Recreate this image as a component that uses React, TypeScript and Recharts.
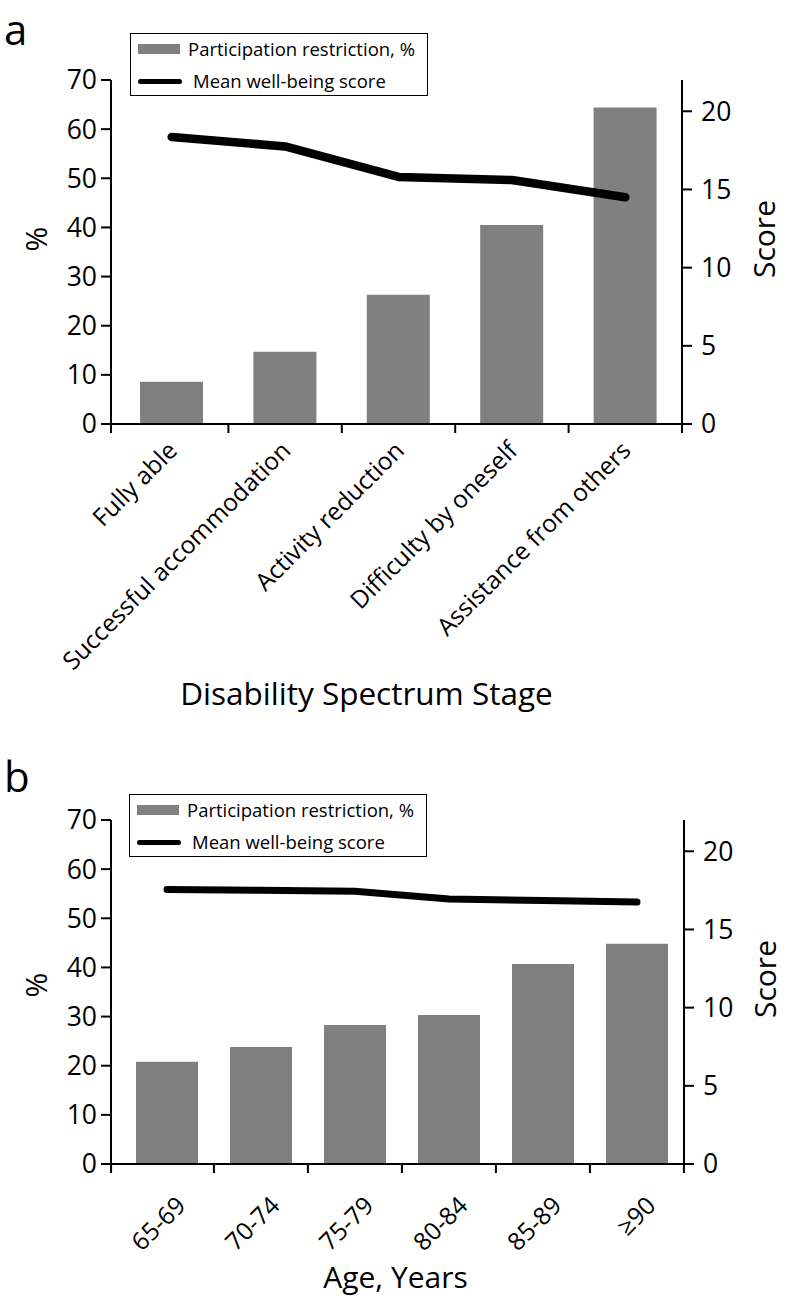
import React from 'react';
import { ComposedChart, Bar, Line, XAxis, YAxis, Legend, Label } from 'recharts';

const FONT = '"Open Sans", "Noto Sans", sans-serif';

// panel a: disability spectrum stage
const stageLabels = [
  'Fully able',
  'Successful accommodation',
  'Activity reduction',
  'Difficulty by oneself',
  'Assistance from others',
];
const stageRestriction = [8.6, 14.7, 26.3, 40.5, 64.4];
const stageScore = [18.35, 17.75, 15.8, 15.6, 14.5];

// panel b: age group
const ageLabels = ['65-69', '70-74', '75-79', '80-84', '85-89', '≥90'];
const ageRestriction = [20.8, 23.8, 28.3, 30.3, 40.7, 44.8];
const ageScore = [17.55, 17.5, 17.45, 16.95, 16.85, 16.75];

const pctTicks = [0, 10, 20, 30, 40, 50, 60, 70];
const scoreTicks = [0, 5, 10, 15, 20];

const stageData = stageLabels.map((name, i) => ({ name, pct: stageRestriction[i], score: stageScore[i] }));
const ageData = ageLabels.map((name, i) => ({ name, pct: ageRestriction[i], score: ageScore[i] }));

const LegendBox = () => (
  <div
    style={{
      position: 'relative',
      border: '1.5px solid #000',
      width: 296,
      height: 61,
      fontFamily: FONT,
      fontSize: 18.5,
      color: '#000',
      background: '#fff',
    }}
  >
    <div style={{ position: 'absolute', left: 7, top: 10, width: 42, height: 10, background: '#808080' }} />
    <div style={{ position: 'absolute', left: 57, top: 3, lineHeight: '24px', whiteSpace: 'nowrap' }}>
      Participation restriction, %
    </div>
    <div style={{ position: 'absolute', left: 7, top: 45, width: 44, height: 5, background: '#000', borderRadius: 3 }} />
    <div style={{ position: 'absolute', left: 62, top: 35, lineHeight: '24px', whiteSpace: 'nowrap' }}>
      Mean well-being score
    </div>
  </div>
);

const makeTick = (band: number, padLeft: number, dx: number, dy: number) => (props: any) => {
  const { x, y, payload, index } = props;
  const edge = x + band / 2;
  const start = x - band / 2 - padLeft;
  return (
    <g>
      <line x1={edge} y1={y} x2={edge} y2={y + 9} stroke="#000" strokeWidth={2} />
      {index === 0 && <line x1={start} y1={y} x2={start} y2={y + 9} stroke="#000" strokeWidth={2} />}
      <text
        transform={`translate(${x + dx},${y + dy}) rotate(-45)`}
        textAnchor="end"
        dy="0.35em"
        fontSize={24.5}
        fontFamily={FONT}
        fill="#000"
      >
        {payload.value}
      </text>
    </g>
  );
};

const sideTitle = (text: string, dx: number, dy: number) => (props: any) => {
  const vb = props.viewBox;
  const cx = vb.x + vb.width / 2 + dx;
  const cy = vb.y + vb.height / 2 + dy;
  return (
    <text
      x={cx}
      y={cy}
      transform={`rotate(-90, ${cx}, ${cy})`}
      textAnchor="middle"
      dominantBaseline="central"
      fontSize={30}
      fontFamily={FONT}
      fill="#000"
    >
      {text}
    </text>
  );
};

const bottomTitle = (text: string, dx: number, bottom: number, size: number) => (props: any) => {
  const vb = props.viewBox;
  return (
    <text
      x={vb.x + vb.width / 2 + dx}
      y={vb.y + vb.height - bottom}
      textAnchor="middle"
      fontSize={size}
      fontFamily={FONT}
      fill="#000"
    >
      {text}
    </text>
  );
};

interface PanelProps {
  data: { name: string; pct: number; score: number }[];
  height: number;
  xAxisHeight: number;
  padLeft: number;
  plotWidth: number;
  barSize: number;
  lineWidth: number;
  tickDx: number;
  tickDy: number;
  title: string;
  titleDx: number;
  titleBottom: number;
  titleSize: number;
  legendTop: number;
  legendLeft: number;
  pctDy: number;
  scoreDy: number;
  rightWidth: number;
}

const Panel: React.FC<PanelProps> = (p) => {
  const band = (p.plotWidth - p.padLeft) / p.data.length;
  const axisStyle = { stroke: '#000', strokeWidth: 2 };
  const tickStyle = { fill: '#000', fontSize: 26.5, fontFamily: FONT };
  return (
    <ComposedChart
      width={787}
      height={p.height}
      data={p.data}
      margin={{ top: 80, right: 0, bottom: 0, left: 0 }}
    >
      <XAxis
        dataKey="name"
        interval={0}
        height={p.xAxisHeight}
        padding={{ left: p.padLeft, right: 0 }}
        axisLine={axisStyle}
        tickLine={false}
        tickSize={0}
        tickMargin={0}
        tick={makeTick(band, p.padLeft, p.tickDx, p.tickDy)}
      >
        <Label content={bottomTitle(p.title, p.titleDx, p.titleBottom, p.titleSize)} />
      </XAxis>
      <YAxis
        yAxisId="pct"
        width={111}
        domain={[0, 70]}
        ticks={pctTicks}
        interval={0}
        axisLine={axisStyle}
        tickLine={axisStyle}
        tickSize={10}
        tickMargin={4}
        tick={tickStyle}
      >
        <Label content={sideTitle('%', -20.5, p.pctDy)} />
      </YAxis>
      <YAxis
        yAxisId="score"
        orientation="right"
        width={p.rightWidth}
        domain={[0, 22]}
        ticks={scoreTicks}
        interval={0}
        axisLine={axisStyle}
        tickLine={axisStyle}
        tickSize={10}
        tickMargin={9}
        tick={tickStyle}
      >
        <Label content={sideTitle('Score', 28.5, p.scoreDy)} />
      </YAxis>
      <Legend
        layout="horizontal"
        verticalAlign="middle"
        align="center"
        content={() => <LegendBox />}
        wrapperStyle={{ left: p.legendLeft, top: p.legendTop, width: 299, height: 64 }}
      />
      <Bar
        yAxisId="pct"
        dataKey="pct"
        fill="#808080"
        barSize={p.barSize}
        isAnimationActive={false}
        name="Participation restriction, %"
      />
      <Line
        yAxisId="score"
        type="linear"
        dataKey="score"
        stroke="#000"
        strokeWidth={p.lineWidth}
        strokeLinecap="round"
        strokeLinejoin="round"
        dot={false}
        activeDot={false}
        isAnimationActive={false}
        name="Mean well-being score"
      />
    </ComposedChart>
  );
};

const letterStyle: React.CSSProperties = {
  position: 'absolute',
  left: 4,
  fontFamily: FONT,
  fontSize: 42,
  lineHeight: '42px',
  color: '#000',
};

export default function App() {
  return (
    <div style={{ position: 'absolute', left: 0, top: 0, width: 787, height: 1298, background: '#fff', fontFamily: FONT }}>
      <div style={{ ...letterStyle, top: 8 }}>a</div>
      <div style={{ ...letterStyle, top: 755 }}>b</div>
      <div style={{ position: 'absolute', left: 0, top: 0 }}>
        <Panel
          data={stageData}
          height={740}
          xAxisHeight={316}
          padLeft={4}
          plotWidth={571}
          barSize={63}
          lineWidth={8.5}
          tickDx={1}
          tickDy={22}
          title="Disability Spectrum Stage"
          titleDx={-30}
          titleBottom={35}
          titleSize={31.5}
          legendTop={33}
          legendLeft={130}
          pctDy={-13}
          scoreDy={-13}
          rightWidth={105}
        />
      </div>
      <div style={{ position: 'absolute', left: 0, top: 740 }}>
        <Panel
          data={ageData}
          height={558}
          xAxisHeight={134}
          padLeft={9}
          plotWidth={572}
          barSize={62}
          lineWidth={7}
          tickDx={14}
          tickDy={37}
          title="Age, Years"
          titleDx={-2}
          titleBottom={10}
          titleSize={30}
          legendTop={54}
          legendLeft={129}
          pctDy={-7}
          scoreDy={-13}
          rightWidth={103}
        />
      </div>
    </div>
  );
}
